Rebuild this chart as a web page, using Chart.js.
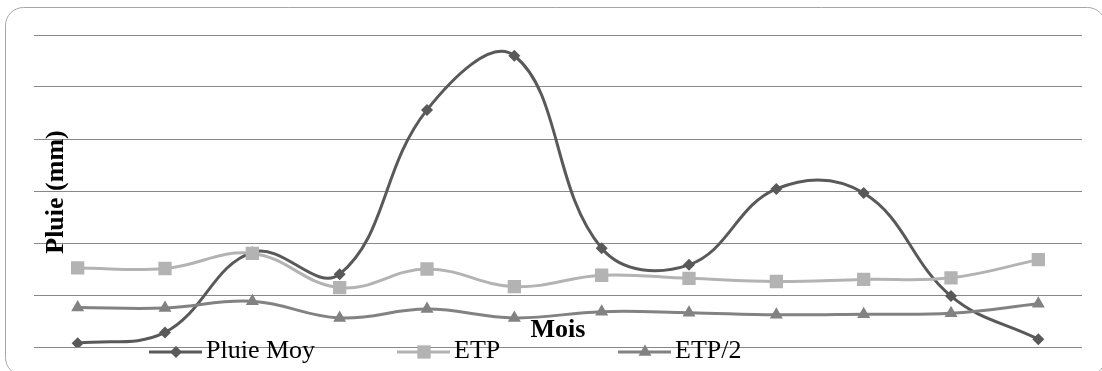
<!DOCTYPE html>
<html>
<head>
<meta charset="utf-8">
<script src="https://cdn.jsdelivr.net/npm/chart.js@4/dist/chart.umd.min.js"></script>
<style>
  html, body { margin: 0; padding: 0; background: #fff; overflow: hidden; }
  #wrap { position: absolute; left: 0; top: 0; width: 1102px; height: 371px; }
</style>
</head>
<body>
<div id="wrap"><canvas id="c" width="1102" height="371"></canvas></div>
<script>
const months = ['Jan', 'Fév', 'Mar', 'Avr', 'Mai', 'Juin', 'Juil', 'Août', 'Sep', 'Oct', 'Nov', 'Déc'];
const pluieMoy = [3.5, 14, 91, 70, 228, 280, 95, 79, 152, 148, 49, 7.5];
const etp = [76, 75.5, 90, 57, 75, 58, 69, 66, 63, 65, 66.5, 84];
const etp2 = [38, 37.5, 44, 28, 36.5, 28, 34, 33, 31, 31.5, 32.5, 41.5];
const yTicks = [0, 50, 100, 150, 200, 250, 300];

const seriesNames = ['Pluie Moy', 'ETP', 'ETP/2'];
const colors = ['#595959', '#b3b3b3', '#828282'];
const styles = ['rectRot', 'rect', 'triangle'];
const radii = [6, 9.4, 7.5];

const serif = '"Liberation Serif", "Times New Roman", serif';

const decor = {
  id: 'decor',
  beforeDraw(chart) {
    const ctx = chart.ctx;
    ctx.save();
    ctx.strokeStyle = '#a6a6a6';
    ctx.lineWidth = 1;
    ctx.beginPath();
    ctx.roundRect(5.5, 7.5, 1100, 368, 18);
    ctx.stroke();
    ctx.restore();
  },
  afterDraw(chart) {
    const ctx = chart.ctx;
    const area = chart.chartArea;
    ctx.save();
    ctx.fillStyle = '#000';
    // Y title
    ctx.font = 'bold 26px ' + serif;
    ctx.translate(63, (area.top + area.bottom) / 2 + 1);
    ctx.rotate(-Math.PI / 2);
    ctx.textAlign = 'center';
    ctx.textBaseline = 'alphabetic';
    ctx.fillText('Pluie (mm)', 0, 0);
    ctx.restore();

    ctx.save();
    ctx.fillStyle = '#000';
    ctx.font = 'bold 26px ' + serif;
    ctx.textAlign = 'center';
    ctx.textBaseline = 'alphabetic';
    ctx.fillText('Mois', (area.left + area.right) / 2, 337);

    // Legend
    const starts = [149, 397, 618];
    const ly = 352;
    ctx.font = '26px ' + serif;
    ctx.textAlign = 'left';
    seriesNames.forEach((name, i) => {
      const x0 = starts[i];
      ctx.strokeStyle = colors[i];
      ctx.lineWidth = 3;
      ctx.beginPath();
      ctx.moveTo(x0, ly);
      ctx.lineTo(x0 + 53, ly);
      ctx.stroke();
      ctx.fillStyle = colors[i];
      ctx.strokeStyle = colors[i];
      Chart.helpers.drawPoint(ctx, { pointStyle: styles[i], radius: radii[i], borderWidth: 0, rotation: 0 }, x0 + 27, ly);
      ctx.fillStyle = '#000';
      ctx.fillText(name, x0 + 57, 358);
    });
    ctx.restore();
  }
};

const datasets = [pluieMoy, etp, etp2].map((d, i) => ({
  label: seriesNames[i],
  data: d,
  borderColor: colors[i],
  backgroundColor: colors[i],
  borderWidth: 3,
  pointStyle: styles[i],
  pointRadius: radii[i],
  pointBorderWidth: 0,
  pointBackgroundColor: colors[i],
  pointBorderColor: colors[i],
  tension: 0.4,
  fill: false,
  order: 3 - i
}));

new Chart(document.getElementById('c'), {
  type: 'line',
  data: { labels: months, datasets },
  plugins: [decor],
  options: {
    responsive: false,
    animation: false,
    devicePixelRatio: 1,
    layout: { padding: { left: 34, right: 20, top: 35, bottom: 24 } },
    plugins: { legend: { display: false }, tooltip: { enabled: false } },
    scales: {
      x: {
        display: true,
        offset: true,
        ticks: { display: false },
        grid: { display: false, drawTicks: false },
        border: { display: false }
      },
      y: {
        min: yTicks[0],
        max: yTicks[yTicks.length - 1],
        afterBuildTicks(axis) { axis.ticks = yTicks.map(v => ({ value: v })); },
        afterFit(axis) { axis.width = 0; },
        ticks: { display: false },
        grid: { color: '#888888', lineWidth: 1, drawTicks: false },
        border: { display: false }
      }
    }
  }
});
</script>
</body>
</html>
